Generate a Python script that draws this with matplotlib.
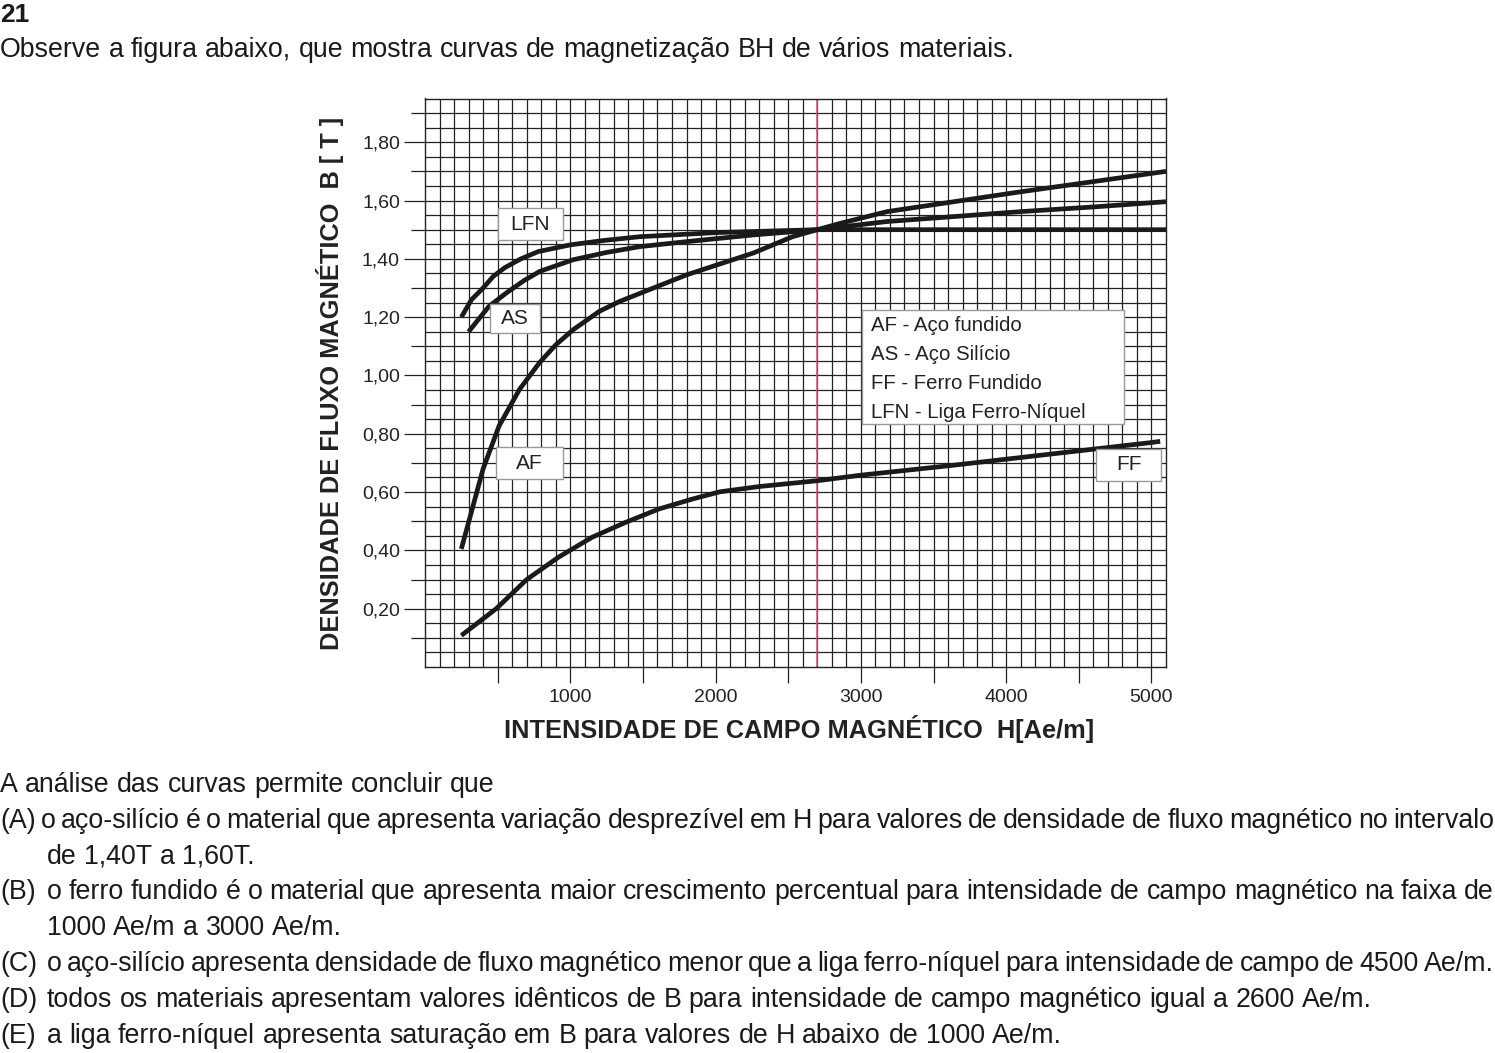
import matplotlib
matplotlib.use('Agg')
import matplotlib.pyplot as plt
from matplotlib.font_manager import FontProperties
from matplotlib.patches import Rectangle
import numpy as np

plt.rcParams['font.family'] = ['Liberation Sans', 'DejaVu Sans']

W, H = 1495, 1053

# curvas BH (H em Ae/m, B em T)
h_lfn = [250, 320, 400, 470, 550, 660, 780, 1000, 1230, 1480, 2000, 2700, 3500, 4300, 5100]
b_lfn = [1.20, 1.26, 1.30, 1.34, 1.37, 1.40, 1.425, 1.448, 1.463, 1.476, 1.49, 1.50, 1.50, 1.50, 1.50]

h_as = [300, 440, 560, 680, 790, 1020, 1250, 1480, 1800, 2260, 2700, 3180, 3640, 4100, 4600, 5100]
b_as = [1.15, 1.237, 1.283, 1.325, 1.357, 1.397, 1.422, 1.442, 1.459, 1.482, 1.50, 1.528, 1.545, 1.562, 1.578, 1.596]

h_af = [250, 300, 400, 510, 650, 790, 900, 1020, 1200, 1340, 1800, 2260, 2530, 2700, 2860, 3180, 3640, 4100, 4600, 5100]
b_af = [0.405, 0.496, 0.68, 0.827, 0.952, 1.045, 1.105, 1.157, 1.22, 1.254, 1.345, 1.42, 1.476, 1.50, 1.522, 1.562, 1.596, 1.63, 1.665, 1.70]

h_ff = [250, 490, 700, 920, 1150, 1380, 1610, 1840, 2030, 2300, 2700, 3000, 3600, 4300, 5000, 5060]
b_ff = [0.108, 0.20, 0.30, 0.377, 0.445, 0.496, 0.542, 0.576, 0.601, 0.619, 0.639, 0.658, 0.69, 0.73, 0.77, 0.774]

h_ref = 2700  # linha vermelha

x_major = [500, 1000, 1500, 2000, 2500, 3000, 3500, 4000, 4500, 5000]
x_labels = ['', '1000', '', '2000', '', '3000', '', '4000', '', '5000']
y_major = [0.2, 0.4, 0.6, 0.8, 1.0, 1.2, 1.4, 1.6, 1.8]
y_labels = ['0,20', '0,40', '0,60', '0,80', '1,00', '1,20', '1,40', '1,60', '1,80']
y_minor = [0.1, 0.3, 0.5, 0.7, 0.9, 1.1, 1.3, 1.5, 1.7, 1.9]

legend_lines = ['AF - Aço fundido', 'AS - Aço Silício', 'FF - Ferro Fundido', 'LFN - Liga Ferro-Níquel']

titulo = 'Observe a figura abaixo, que mostra curvas de magnetização BH de vários materiais.'
intro = 'A análise das curvas permite concluir que'
# (rótulo, texto, continuação, justificar)
opcoes = [
    ('(A)', 'o aço-silício é o material que apresenta variação desprezível em H para valores de densidade de fluxo magnético no intervalo',
     'de 1,40T a 1,60T.', True),
    ('(B)', 'o ferro fundido é o material que apresenta maior crescimento percentual para intensidade de campo magnético na faixa de',
     '1000 Ae/m a 3000 Ae/m.', True),
    ('(C)', 'o aço-silício apresenta densidade de fluxo magnético menor que a liga ferro-níquel para intensidade de campo de 4500 Ae/m.',
     None, True),
    ('(D)', 'todos os materiais apresentam valores idênticos de B para intensidade de campo magnético igual a 2600 Ae/m.',
     None, False),
    ('(E)', 'a liga ferro-níquel apresenta saturação em B para valores de H abaixo de 1000 Ae/m.', None, False),
]

fig = plt.figure(figsize=(W / 100, H / 100), dpi=100)
fig.patch.set_facecolor('white')
ax = fig.add_axes([425 / W, 1 - 667 / H, 741 / W, 568.5 / H])
ax.set_xlim(0, 5100)
ax.set_ylim(0, 1.95)

# grade milimetrada
ax.vlines(np.arange(100, 5100, 100), 0, 1.95, color='#222222', lw=0.9, zorder=1)
ax.hlines(np.arange(0.05, 1.95, 0.05), 0, 5100, color='#222222', lw=0.9, zorder=1)
ax.axvline(h_ref, color='#e0507a', lw=1.1, zorder=2)

for hh, bb in [(h_lfn, b_lfn), (h_as, b_as), (h_af, b_af), (h_ff, b_ff)]:
    ax.plot(hh, bb, color='#1a1a1a', lw=3.4, solid_capstyle='butt', solid_joinstyle='round', zorder=4)

for sp in ax.spines.values():
    sp.set_linewidth(1.0)
    sp.set_color('#222222')

ax.set_xticks(x_major)
ax.set_xticklabels(x_labels)
ax.set_yticks(y_major)
ax.set_yticklabels(y_labels)
ax.set_yticks(y_minor, minor=True)
ax.tick_params(axis='x', length=11.5, width=0.9, pad=4, labelsize=14, colors='#222222')
ax.tick_params(axis='y', which='major', length=15, width=0.9, pad=3, labelsize=14, colors='#222222')
ax.tick_params(axis='y', which='minor', length=10, width=0.9, colors='#222222')


def caixa(x0, x1, y0, y1, txt):
    ax.add_patch(Rectangle((x0, y0), x1 - x0, y1 - y0, facecolor='white',
                           edgecolor='#999999', lw=1.0, zorder=5))
    if txt:
        ax.text((x0 + x1) / 2, (y0 + y1) / 2, txt, ha='center', va='center',
                fontsize=15, color='#222222', zorder=6)


caixa(502, 950, 1.465, 1.573, 'LFN')
caixa(445, 790, 1.147, 1.246, 'AS')
caixa(491, 950, 0.644, 0.753, 'AF')
caixa(4618, 5066, 0.639, 0.747, 'FF')
caixa(3008, 4810, 0.833, 1.226, None)
for i, s in enumerate(legend_lines):
    ax.text(3070, 1.153 - i * 0.0995, s, ha='left', va='baseline', fontsize=14.7,
            color='#222222', zorder=6)

fig.text(799 / W, 1 - 729 / H, 'INTENSIDADE DE CAMPO MAGNÉTICO  H[Ae/m]', ha='center',
         va='center', fontsize=18.3, fontweight='bold', color='#222222')
fig.text(330 / W, 1 - 383 / H, 'DENSIDADE DE FLUXO MAGNÉTICO  B [ T ]', ha='center',
         va='center', rotation=90, fontsize=18.3, fontweight='bold', color='#222222')

# textos da questão
renderer = fig.canvas.get_renderer()
fp = FontProperties(family='Liberation Sans', size=19.3)
esp = renderer.get_text_width_height_descent(' ', fp, ismath=False)[0]


def linha(txt, x0, y, x1=None):
    palavras = txt.split()
    larg = [renderer.get_text_width_height_descent(p, fp, ismath=False)[0] for p in palavras]
    gap = esp
    if x1 is not None and len(palavras) > 1:
        gap = (x1 - x0 - sum(larg)) / (len(palavras) - 1)
    x = x0
    for p, lw in zip(palavras, larg):
        fig.text(x / W, 1 - y / H, p, fontproperties=fp, va='baseline', color='#1a1a1a')
        x += lw + gap


fig.text(0, 1 - 22 / H, '21', fontsize=19, fontweight='bold', va='baseline', color='#1a1a1a')
linha(titulo, 0, 57)
linha(intro, 0, 792)
y = 792 + 35.8
for k, (rot, t1, t2, just) in enumerate(opcoes):
    if k == 0:
        linha(rot + ' ' + t1, 0, y, 1494)
    else:
        fig.text(0, 1 - y / H, rot, fontproperties=fp, va='baseline', color='#1a1a1a')
        linha(t1, 47, y, 1494 if just else None)
    y += 35.8
    if t2:
        linha(t2, 47, y)
        y += 35.8

fig.savefig('out.png', dpi=100, facecolor='white')
